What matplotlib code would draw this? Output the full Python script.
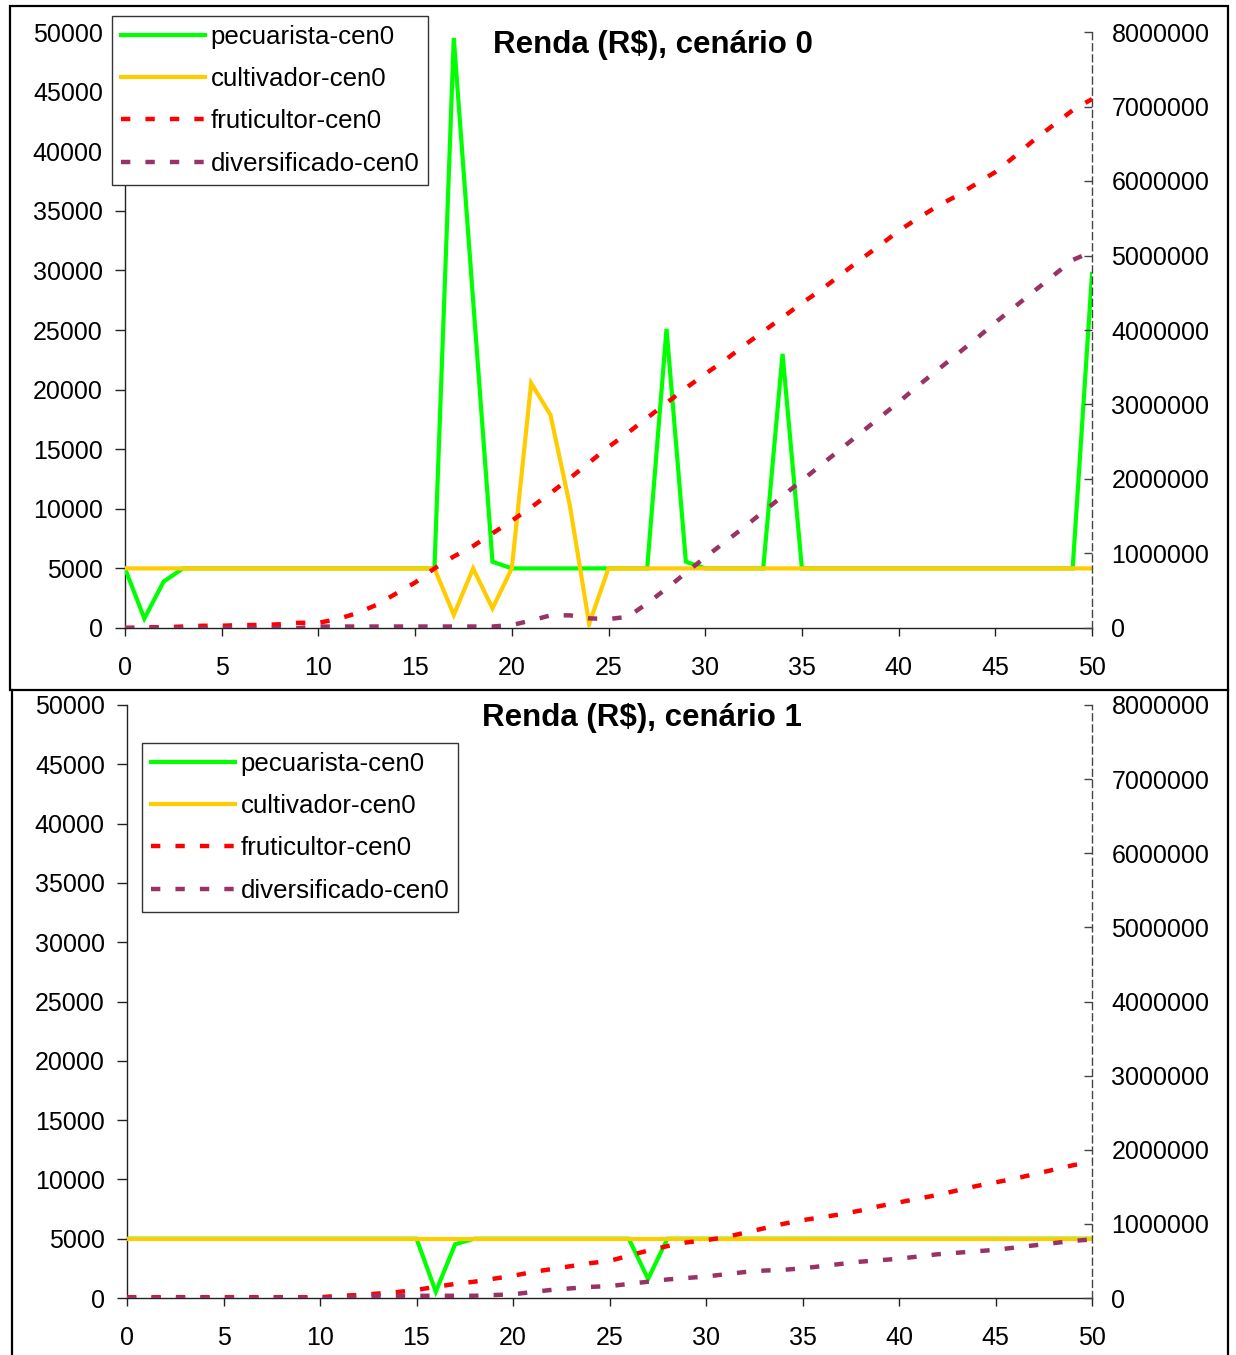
import matplotlib
matplotlib.use("Agg")
import matplotlib.pyplot as plt
from matplotlib.patches import Rectangle
from matplotlib.lines import Line2D

plt.rcParams['font.family'] = ['Liberation Sans', 'DejaVu Sans']

years = list(range(0, 51))

# Scenario 0 (left axis)
pecuarista_c0 = [5000, 800, 3900, 5000, 5000, 5000, 5000, 5000, 5000, 5000,
                 5000, 5000, 5000, 5000, 5000, 5000, 5000, 49500, 27500, 5560,
                 5000, 5000, 5000, 5000, 5000, 5000, 5000, 5000, 25100, 5560,
                 5000, 5000, 5000, 5000, 23000, 5000, 5000, 5000, 5000, 5000,
                 5000, 5000, 5000, 5000, 5000, 5000, 5000, 5000, 5000, 5000,
                 29700]
cultivador_c0 = [5000] * 17 + [1100, 5000, 1650, 5000, 20550, 17870, 10300, 340] + [5000] * 26
# Scenario 0 (right axis, millions)
fruticultor_c0 = [0.0, 0.01, 0.01, 0.02, 0.03, 0.03, 0.04, 0.04, 0.05, 0.07,
                  0.07, 0.12, 0.2, 0.31, 0.46, 0.61, 0.8, 0.96, 1.1, 1.27,
                  1.44, 1.62, 1.81, 2.01, 2.22, 2.43, 2.62, 2.82, 3.02, 3.22,
                  3.41, 3.59, 3.79, 3.98, 4.17, 4.36, 4.54, 4.74, 4.94, 5.13,
                  5.33, 5.5, 5.66, 5.8, 5.96, 6.12, 6.33, 6.55, 6.75, 6.95,
                  7.1]
diversificado_c0 = [0.0] * 10 + [0.02] * 10 + [0.04, 0.1, 0.17, 0.17, 0.13, 0.12, 0.15, 0.33, 0.53, 0.74,
                                              0.95, 1.15, 1.35, 1.56, 1.77, 1.98, 2.19, 2.4, 2.61, 2.82,
                                              3.03, 3.25, 3.46, 3.67, 3.88, 4.1, 4.31, 4.52, 4.73, 4.94,
                                              5.05]

# Scenario 1 (left axis)
pecuarista_c1 = [5000] * 16 + [530, 4530] + [5000] * 9 + [1600] + [5000] * 23
cultivador_c1 = [5000] * 51
# Scenario 1 (right axis, millions)
fruticultor_c1 = [0.01] * 11 + [0.03, 0.04, 0.06, 0.08, 0.11, 0.15, 0.19, 0.22, 0.26,
                                0.3, 0.35, 0.39, 0.43, 0.47, 0.5, 0.57, 0.64, 0.7, 0.75,
                                0.78, 0.82, 0.88, 0.94, 1.0, 1.05, 1.09, 1.13, 1.18, 1.24,
                                1.29, 1.34, 1.39, 1.45, 1.51, 1.56, 1.61, 1.67, 1.73, 1.79,
                                1.84]
diversificado_c1 = [0.0] * 12 + [0.02, 0.03, 0.03, 0.03, 0.03, 0.03, 0.03, 0.04,
                                 0.05, 0.08, 0.11, 0.13, 0.15, 0.16, 0.19, 0.22, 0.25, 0.27,
                                 0.29, 0.32, 0.35, 0.37, 0.38, 0.4, 0.43, 0.46, 0.49, 0.51,
                                 0.53, 0.56, 0.59, 0.61, 0.63, 0.65, 0.68, 0.71, 0.74, 0.77,
                                 0.79]

labels = ["pecuarista-cen0", "cultivador-cen0", "fruticultor-cen0", "diversificado-cen0"]
titles = ["Renda (R$), cenário 0", "Renda (R$), cenário 1"]
left_ticks = list(range(0, 50001, 5000))
right_ticks = list(range(0, 8000001, 1000000))
x_ticks = list(range(0, 51, 5))

C_GREEN = "#00FF00"
C_YELLOW = "#FFCC00"
C_RED = "#FF0000"
C_PURPLE = "#993366"

W, H = 1236, 1355
fig = plt.figure(figsize=(W / 100, H / 100), dpi=100)

def fx(px):
    return px / W

def fy(py):
    return 1 - py / H

FS = 18
LFS = 18.6
LW_SOLID = 3.0
LW_DASH = 3.2
DASH = (2.1, 3.4)

def make_panel(rect, peq, cul, fru, div, title, title_xy, legend_xy):
    l, t, r, b = rect
    ax = fig.add_axes([fx(l), fy(b), fx(r) - fx(l), fy(t) - fy(b)])
    ax2 = ax.twinx()
    ax.plot(years, peq, color=C_GREEN, lw=LW_SOLID, solid_joinstyle='miter', zorder=3)
    ax.plot(years, cul, color=C_YELLOW, lw=LW_SOLID, solid_joinstyle='miter', zorder=4)
    fv = [v * 1e6 for v in fru]
    dv = [v * 1e6 for v in div]
    ax2.plot(years, fv, color=C_RED, lw=LW_DASH, dashes=DASH, zorder=3)
    ax2.plot(years, dv, color=C_PURPLE, lw=LW_DASH, dashes=DASH, zorder=3)

    ax.set_xlim(0, 50)
    ax.set_ylim(0, 50000)
    ax2.set_ylim(0, 8000000)
    ax.set_xticks(x_ticks)
    ax.set_yticks(left_ticks)
    ax2.set_yticks(right_ticks)
    ax.set_xticklabels([str(v) for v in x_ticks])
    ax.set_yticklabels([str(v) for v in left_ticks])
    ax2.set_yticklabels([str(v) for v in right_ticks])

    for a in (ax, ax2):
        a.spines['top'].set_visible(False)
        a.patch.set_visible(False)
    ax2.spines['left'].set_visible(False)
    ax2.spines['bottom'].set_visible(False)
    ax.spines['right'].set_visible(False)
    ax.spines['left'].set_color('#222222')
    ax.spines['bottom'].set_color('#222222')
    ax.spines['left'].set_linewidth(1.0)
    ax.spines['bottom'].set_linewidth(1.0)
    ax2.spines['right'].set_color('#444444')
    ax2.spines['right'].set_linestyle((0, (5, 3)))
    ax2.spines['right'].set_linewidth(1.0)

    ax.tick_params(axis='y', direction='out', length=7, width=1, color='#222222',
                   labelsize=FS, pad=9)
    ax.tick_params(axis='x', direction='out', length=6, width=1, color='#222222',
                   labelsize=FS, pad=14)
    ax2.tick_params(axis='y', direction='in', length=6, width=1, color='#444444',
                    labelsize=FS, pad=14)

    fig.text(fx(title_xy[0]), fy(title_xy[1]), title, ha='center', va='center',
             fontsize=22.5, fontweight='bold')

    handles = [Line2D([], [], color=C_GREEN, lw=LW_SOLID),
               Line2D([], [], color=C_YELLOW, lw=LW_SOLID),
               Line2D([], [], color=C_RED, lw=LW_DASH, dashes=DASH),
               Line2D([], [], color=C_PURPLE, lw=LW_DASH, dashes=DASH)]
    leg = fig.legend(handles, labels, loc='upper left',
                     bbox_to_anchor=(fx(legend_xy[0]), fy(legend_xy[1])),
                     bbox_transform=fig.transFigure, fontsize=LFS,
                     frameon=True, fancybox=False, shadow=False,
                     handlelength=3.25, handletextpad=0.2, labelspacing=0.7,
                     borderpad=0.36, borderaxespad=0, framealpha=1)
    leg.get_frame().set_edgecolor('#333333')
    leg.get_frame().set_linewidth(1.0)
    return ax, ax2

make_panel((125, 32, 1092, 628), pecuarista_c0, cultivador_c0, fruticultor_c0, diversificado_c0,
           titles[0], (653, 45), (112, 16))
make_panel((127, 705, 1092, 1298), pecuarista_c1, cultivador_c1, fruticultor_c1, diversificado_c1,
           titles[1], (642, 718), (142, 743))

# panel borders
fig.add_artist(Rectangle((fx(10), fy(690)), fx(1228) - fx(10), fy(6) - fy(690),
                         transform=fig.transFigure, fill=False, edgecolor='black', lw=1.6))
fig.add_artist(Line2D([fx(12), fx(12)], [fy(690), fy(1356)], transform=fig.transFigure,
                      color='black', lw=1.6))
fig.add_artist(Line2D([fx(1228), fx(1228)], [fy(690), fy(1356)], transform=fig.transFigure,
                      color='black', lw=1.6))

fig.savefig("out.png", dpi=100)
